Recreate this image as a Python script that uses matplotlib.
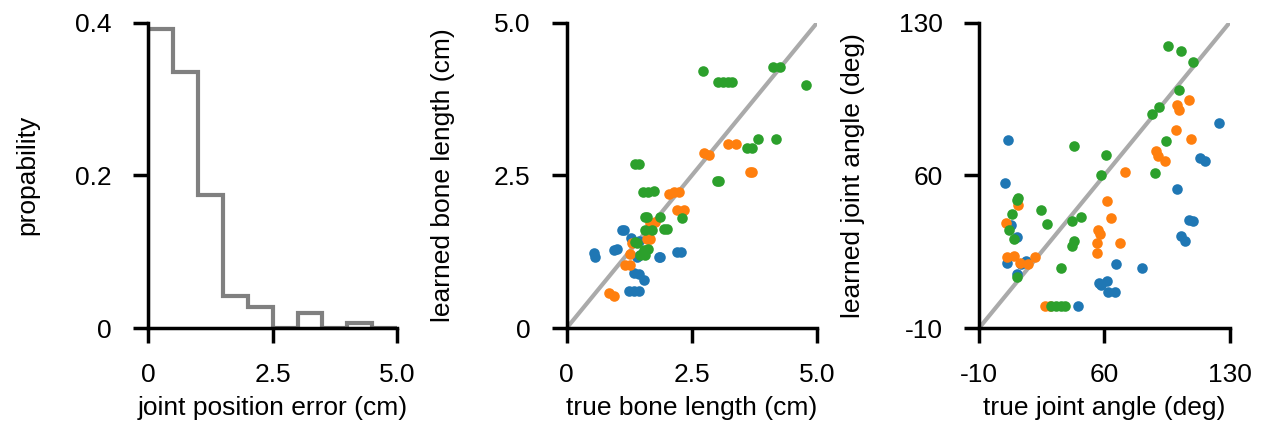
import matplotlib
matplotlib.use('Agg')
import matplotlib.pyplot as plt
import numpy as np

plt.rcParams['font.family'] = ['Liberation Sans', 'DejaVu Sans']
plt.rcParams['font.size'] = 19

BLUE   = "#1f77b4"
ORANGE = "#ff7f0e"
GREEN  = "#2ca02c"
DOT    = 58

# histogram of joint position error (probability per 0.5 cm bin)
hist_edges  = [0, 0.5, 1.0, 1.5, 2.0, 2.5, 3.0, 3.5, 4.0, 4.5, 5.0]
hist_values = [0.392, 0.335, 0.174, 0.042, 0.028, 0.0, 0.020, 0.0, 0.006, 0.0]

# bone lengths (cm): true vs learned
bone_blue_x   = [1.10, 1.14, 1.29, 1.44, 0.54, 0.57, 0.94, 1.00, 1.41, 1.47,
                 1.84, 1.87, 2.21, 2.28, 1.34, 1.44, 1.54, 1.24, 1.34, 1.44]
bone_blue_y   = [1.61, 1.60, 1.48, 1.43, 1.23, 1.17, 1.27, 1.30, 1.17, 1.19,
                 1.16, 1.16, 1.25, 1.25, 0.90, 0.89, 0.78, 0.60, 0.60, 0.60]
bone_orange_x = [2.74, 2.84, 3.21, 3.38, 3.65, 3.70, 2.04, 2.14, 2.24, 2.21,
                 2.34, 1.67, 1.77, 1.61, 1.67, 1.31, 1.27, 1.17, 1.27, 0.84, 0.94]
bone_orange_y = [2.86, 2.83, 3.02, 3.01, 2.55, 2.55, 2.19, 2.22, 2.23, 1.93,
                 1.94, 1.72, 1.73, 1.46, 1.46, 1.39, 1.21, 1.03, 1.03, 0.57, 0.53]
bone_green_x  = [2.72, 3.01, 3.11, 3.21, 3.30, 4.12, 4.26, 4.77, 3.82, 4.18,
                 3.59, 3.70, 2.99, 3.03, 1.36, 1.44, 1.53, 1.63, 1.74, 1.56,
                 1.61, 1.87, 2.30, 1.56, 1.71, 1.94, 2.01, 1.36, 1.41, 1.54,
                 1.63, 1.47, 1.56]
bone_green_y  = [4.21, 4.02, 4.02, 4.03, 4.03, 4.27, 4.27, 3.97, 3.09, 3.09,
                 2.94, 2.94, 2.40, 2.40, 2.69, 2.69, 2.23, 2.23, 2.24, 1.81,
                 1.82, 1.81, 1.80, 1.61, 1.61, 1.62, 1.62, 1.41, 1.39, 1.27,
                 1.29, 1.19, 1.19]

# joint angles (deg): true vs learned
ang_blue_x   = [6.2, 4.3, 8.1, 10.9, 5.6, 13.6, 16.4, 11.4, 66.7, 81.0,
                56.8, 58.3, 61.7, 62.1, 66.1, 45.3, 100.8, 107.3, 109.5, 103.0,
                105.3, 113.4, 116.0, 124.1]
ang_blue_y   = [76.4, 56.5, 37.0, 31.7, 19.7, 19.4, 20.9, 14.8, 19.4, 17.6,
                10.7, 9.8, 11.7, 6.4, 6.4, 0.0, 53.6, 39.6, 39.0, 32.0,
                30.1, 67.7, 66.6, 84.0]
ang_orange_x = [11.8, 5.3, 5.6, 9.4, 12.7, 17.4, 21.5, 26.7, 29.5, 61.7,
                63.9, 56.5, 57.4, 56.1, 55.9, 68.6, 71.4, 89.0, 90.0, 93.7,
                100.2, 108.2, 100.6, 101.7, 107.3]
ang_orange_y = [46.2, 38.1, 22.5, 23.2, 19.7, 19.4, 22.5, 0.0, 0.0, 48.0,
                40.5, 34.7, 33.2, 28.9, 24.5, 28.9, 61.5, 71.2, 68.7, 66.6,
                80.7, 76.8, 92.2, 89.9, 94.5]
ang_green_x  = [95.6, 103.0, 109.5, 101.5, 86.8, 90.4, 94.6, 88.1, 61.1, 58.0,
                43.1, 11.8, 11.4, 8.4, 6.8, 9.5, 24.8, 28.2, 41.9, 46.8,
                43.1, 41.9, 36.0, 10.9, 30.4, 33.2, 35.6, 38.2]
ang_green_y  = [119.4, 117.1, 112.1, 99.1, 87.9, 91.1, 75.6, 61.1, 69.2, 60.0,
                73.3, 49.6, 48.5, 42.1, 34.8, 30.6, 43.9, 37.5, 38.9, 40.8,
                30.1, 27.4, 17.4, 13.6, 0.0, 0.0, 0.0, 0.0]


def style_axis(ax):
    ax.spines[["top", "right"]].set_visible(False)
    for side in ["left", "bottom"]:
        ax.spines[side].set_linewidth(2.5)
    ax.tick_params(direction="out", length=11, width=2.5,
                   labelsize=19, color="black")
    ax.tick_params(axis="x", pad=14)
    ax.tick_params(axis="y", pad=15)


fig = plt.figure(figsize=(12.65, 4.26), dpi=100)
fig.patch.set_facecolor("white")

bottom, height = 0.230, 0.717
ax1 = fig.add_axes([0.117, bottom, 0.197, height])
ax2 = fig.add_axes([0.448, bottom, 0.198, height])
ax3 = fig.add_axes([0.774, bottom, 0.198, height])

# panel 1: error histogram
ax1.stairs(hist_values, hist_edges, color="#808080", linewidth=3)
ax1.set_xlim(0, 5)
ax1.set_ylim(0, 0.4)
ax1.set_xticks([0, 2.5, 5.0])
ax1.set_xticklabels(["0", "2.5", "5.0"])
ax1.set_yticks([0, 0.2, 0.4])
ax1.set_yticklabels(["0", "0.2", "0.4"])
ax1.set_xlabel("joint position error (cm)")
ax1.set_ylabel("propability", va="center")
ax1.xaxis.set_label_coords(0.5, -0.222)
ax1.yaxis.set_label_coords(-0.486, 0.5)
style_axis(ax1)

# panel 2: bone lengths
ax2.plot([0, 5], [0, 5], color="#aaaaaa", linewidth=3, zorder=1)
ax2.scatter(bone_blue_x, bone_blue_y, s=DOT, color=BLUE, linewidths=0, zorder=2)
ax2.scatter(bone_orange_x, bone_orange_y, s=DOT, color=ORANGE, linewidths=0, zorder=2)
ax2.scatter(bone_green_x, bone_green_y, s=DOT, color=GREEN, linewidths=0, zorder=2)
ax2.set_xlim(0, 5)
ax2.set_ylim(0, 5)
ax2.set_xticks([0, 2.5, 5.0])
ax2.set_xticklabels(["0", "2.5", "5.0"])
ax2.set_yticks([0, 2.5, 5.0])
ax2.set_yticklabels(["0", "2.5", "5.0"])
ax2.set_xlabel("true bone length (cm)")
ax2.set_ylabel("learned bone length (cm)", va="center")
ax2.xaxis.set_label_coords(0.5, -0.222)
ax2.yaxis.set_label_coords(-0.494, 0.5)
style_axis(ax2)

# panel 3: joint angles
ax3.plot([-10, 130], [-10, 130], color="#aaaaaa", linewidth=3, zorder=1)
ax3.scatter(ang_blue_x, ang_blue_y, s=DOT, color=BLUE, linewidths=0, zorder=2)
ax3.scatter(ang_orange_x, ang_orange_y, s=DOT, color=ORANGE, linewidths=0, zorder=2)
ax3.scatter(ang_green_x, ang_green_y, s=DOT, color=GREEN, linewidths=0, zorder=2)
ax3.set_xlim(-10, 130)
ax3.set_ylim(-10, 130)
ax3.set_xticks([-10, 60, 130])
ax3.set_xticklabels(["-10", "60", "130"])
ax3.set_yticks([-10, 60, 130])
ax3.set_yticklabels(["-10", "60", "130"])
ax3.set_xlabel("true joint angle (deg)")
ax3.set_ylabel("learned joint angle (deg)", va="center")
ax3.xaxis.set_label_coords(0.5, -0.222)
ax3.yaxis.set_label_coords(-0.504, 0.5)
style_axis(ax3)

fig.savefig("out.png", dpi=100, facecolor="white")
plt.close(fig)
